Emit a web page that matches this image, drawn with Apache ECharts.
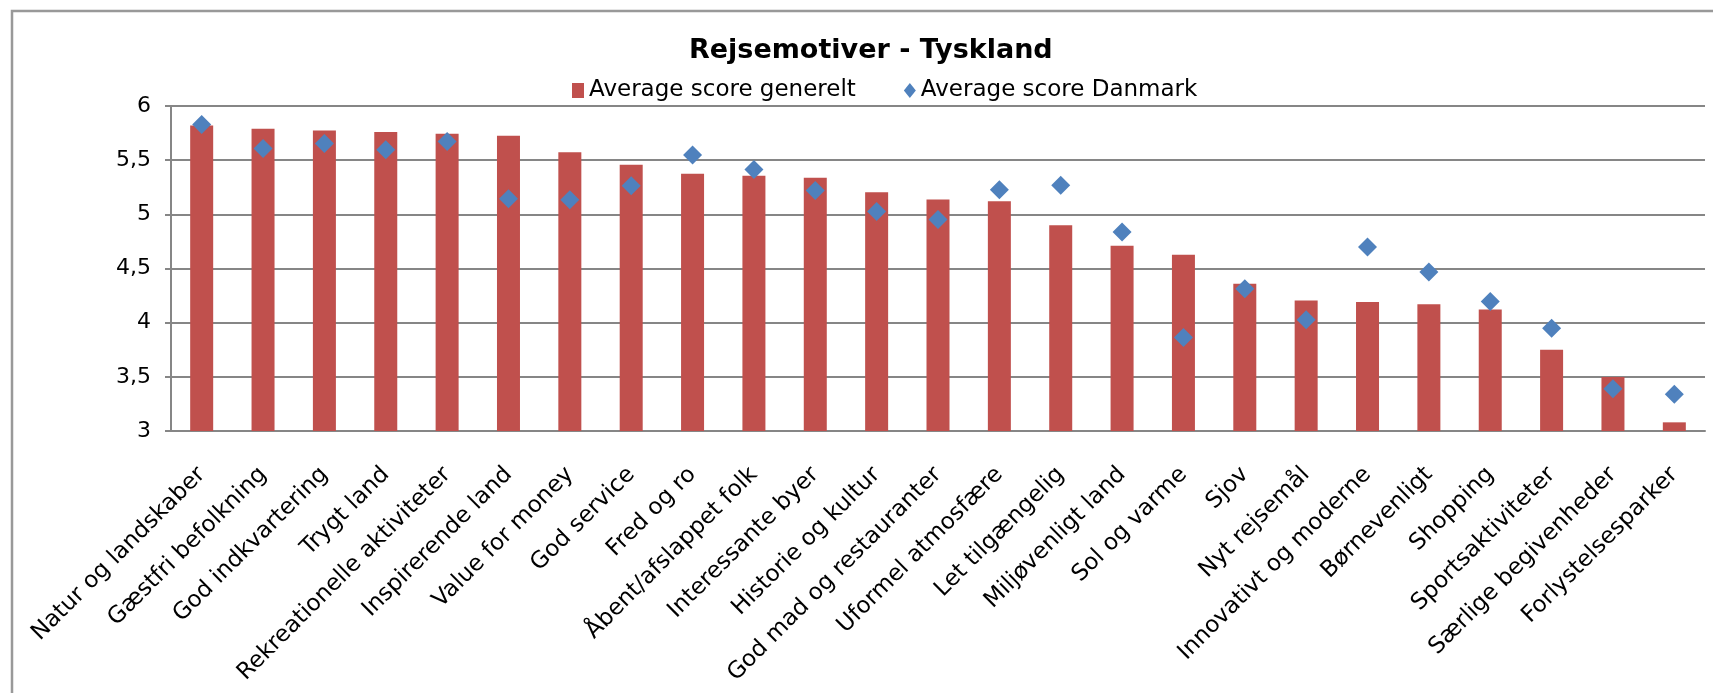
<!DOCTYPE html>
<html>
<head>
<meta charset="utf-8">
<script src="https://cdn.jsdelivr.net/npm/echarts@6/dist/echarts.min.js"></script>
<style>
    html, body { margin: 0; padding: 0; background: #fff; }
    #chart { width: 1713px; height: 693px; }
</style>
</head>
<body>
<div id="chart"></div>
<script>
var categories = ['Natur og landskaber', 'Gæstfri befolkning', 'God indkvartering', 'Trygt land',
    'Rekreationelle aktiviteter', 'Inspirerende land', 'Value for money', 'God service', 'Fred og ro',
    'Åbent/afslappet folk', 'Interessante byer', 'Historie og kultur', 'God mad og restauranter',
    'Uformel atmosfære', 'Let tilgængelig', 'Miljøvenligt land', 'Sol og varme', 'Sjov', 'Nyt rejsemål',
    'Innovativt og moderne', 'Børnevenligt', 'Shopping', 'Sportsaktiviteter', 'Særlige begivenheder',
    'Forlystelsesparker'];
var scoreGenerelt = [5.82, 5.79, 5.775, 5.76, 5.744, 5.726, 5.574, 5.457, 5.374, 5.356, 5.337,
    5.204, 5.137, 5.121, 4.899, 4.711, 4.628, 4.36, 4.205, 4.19, 4.171, 4.122, 3.749, 3.499, 3.08];
var scoreDanmark = [5.83, 5.608, 5.655, 5.596, 5.673, 5.143, 5.134, 5.263, 5.547, 5.414, 5.22,
    5.026, 4.952, 5.226, 5.269, 4.837, 3.863, 4.313, 4.027, 4.699, 4.467, 4.196, 3.949, 3.391, 3.34];
var yTicks = [3, 3.5, 4, 4.5, 5, 5.5, 6];

(function () {
    var myChart = echarts.init(document.querySelector('#chart'));
    var font = 'DejaVu Sans';
    myChart.setOption({
        animation: false,
        textStyle: { fontFamily: font },
        title: {
            text: 'Rejsemotiver - Tyskland',
            left: 684,
            top: 32,
            textStyle: { fontFamily: font, fontSize: 27, fontWeight: 'bold', color: '#000' }
        },
        legend: {
            left: 567,
            top: 74,
            itemWidth: 12,
            itemHeight: 15,
            itemGap: 48,
            textStyle: { fontFamily: font, fontSize: 23, color: '#000' },
            data: [
                { name: 'Average score generelt', icon: 'rect' },
                { name: 'Average score Danmark', icon: 'diamond' }
            ]
        },
        graphic: [{
            type: 'rect',
            shape: { x: 12, y: 11, width: 1800, height: 800 },
            style: { fill: 'none', stroke: '#999', lineWidth: 2.5 },
            silent: true
        }],
        grid: {
            left: 171,
            right: 8,
            top: 106,
            bottom: 262,
            outerBoundsMode: 'none'
        },
        xAxis: [{
            type: 'category',
            data: categories,
            axisLine: { lineStyle: { color: '#868686', width: 2 } },
            axisTick: { length: 6, lineStyle: { color: '#868686', width: 2 } },
            axisLabel: {
                interval: 0,
                rotate: 45,
                margin: 40,
                fontSize: 23,
                fontFamily: font,
                color: '#000'
            }
        }],
        yAxis: [{
            type: 'value',
            min: yTicks[0],
            max: yTicks[yTicks.length - 1],
            interval: 0.5,
            axisLine: { show: true, lineStyle: { color: '#868686', width: 2 } },
            axisTick: { show: true, length: 6, lineStyle: { color: '#868686', width: 2 } },
            splitLine: { lineStyle: { color: '#868686', width: 2 } },
            axisLabel: {
                margin: 20,
                fontSize: 22,
                fontFamily: font,
                color: '#000',
                formatter: function (v) { return String(v).replace('.', ','); }
            }
        }],
        series: [{
            name: 'Average score generelt',
            type: 'bar',
            barWidth: 23,
            itemStyle: { color: '#C0504D' },
            data: scoreGenerelt
        }, {
            name: 'Average score Danmark',
            type: 'scatter',
            symbol: 'diamond',
            symbolSize: 19,
            itemStyle: { color: '#4F81BD', opacity: 1 },
            z: 3,
            data: scoreDanmark
        }]
    });
})();
</script>
</body>
</html>
